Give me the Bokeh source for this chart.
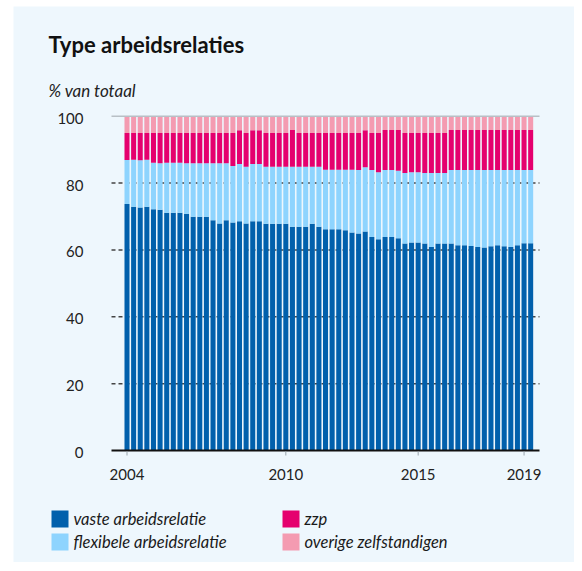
from bokeh.plotting import figure
from bokeh.models import ColumnDataSource, Spacer
from bokeh.core.properties import value
from bokeh.layouts import row, column
from bokeh.embed import file_html
from bokeh.resources import INLINE

# Quarters 2004 K1 .. 2019 K2
kwartalen = [f"{j}-K{k}" for j in range(2004, 2020) for k in range(1, 5)][:62]

vaste = [73.7, 72.9, 72.7, 72.9, 72.2, 72.0, 71.1, 71.1, 71.1, 70.8,
         69.9, 69.9, 69.9, 68.9, 67.9, 68.9, 68.2, 68.6, 67.9, 68.6,
         68.6, 67.8, 67.8, 67.8, 67.8, 66.9, 66.9, 66.9, 67.8, 66.9,
         66.2, 66.2, 66.2, 65.9, 65.2, 64.9, 65.5, 63.9, 63.2, 63.9,
         63.9, 63.5, 61.9, 62.2, 62.2, 61.9, 60.9, 61.9, 61.9, 61.9,
         61.4, 61.4, 61.2, 60.9, 60.7, 61.1, 61.4, 61.1, 60.9, 61.4,
         62.0, 62.0]
flexibel = [13.2, 14.1, 14.1, 14.1, 13.9, 13.9, 15.0, 15.0, 15.0, 15.1,
            16.0, 16.0, 16.0, 17.0, 18.0, 17.0, 16.9, 17.1, 17.0, 17.1,
            17.1, 17.1, 17.1, 17.1, 17.1, 18.0, 18.0, 18.0, 17.1, 18.0,
            17.8, 17.8, 17.8, 18.1, 18.8, 19.0, 19.2, 20.0, 20.0, 20.0,
            20.0, 20.2, 21.1, 21.0, 21.0, 21.1, 22.1, 21.1, 21.1, 22.0,
            22.5, 22.5, 22.7, 23.0, 23.2, 22.8, 22.5, 22.8, 23.0, 22.5,
            21.9, 21.9]
zzp = [8.1, 8.0, 8.2, 8.0, 8.9, 9.1, 8.9, 8.9, 8.9, 9.1,
       9.1, 9.1, 9.1, 9.1, 9.1, 9.1, 9.9, 10.1, 10.1, 10.1,
       10.1, 10.1, 10.1, 10.1, 10.1, 11.0, 10.1, 10.1, 10.1, 10.1,
       11.0, 11.0, 11.0, 11.0, 11.0, 11.1, 11.1, 11.1, 11.8, 12.0,
       12.0, 12.2, 12.0, 11.8, 11.8, 12.0, 12.0, 12.0, 12.0, 12.0,
       12.0, 12.0, 12.0, 12.0, 12.0, 12.0, 12.0, 12.0, 12.0, 12.0,
       12.0, 12.0]
overige = [5.0, 5.0, 5.0, 5.0, 5.0, 5.0, 5.0, 5.0, 5.0, 5.0,
           5.0, 5.0, 5.0, 5.0, 5.0, 5.0, 5.0, 4.2, 5.0, 4.2,
           4.2, 5.0, 5.0, 5.0, 5.0, 4.1, 5.0, 5.0, 5.0, 5.0,
           5.0, 5.0, 5.0, 5.0, 5.0, 5.0, 4.2, 5.0, 5.0, 4.1,
           4.1, 4.1, 5.0, 5.0, 5.0, 5.0, 5.0, 5.0, 5.0, 4.1,
           4.1, 4.1, 4.1, 4.1, 4.1, 4.1, 4.1, 4.1, 4.1, 4.1,
           4.1, 4.1]

series = ["vaste", "flexibel", "zzp", "overige"]
labels = ["vaste arbeidsrelatie", "flexibele arbeidsrelatie", "zzp",
          "overige zelfstandigen"]
colors = ["#0160AC", "#8ED4FE", "#E5006E", "#F49BB1"]
year_ticks = [2004, 2010, 2015, 2019]
y_ticks = [0, 20, 40, 60, 80, 100]
grid_ticks = [20, 40, 60, 80]
title = "Type arbeidsrelaties"
subtitle = "% van totaal"

BG = "#EEF7FD"
FONT = "Lato"

# layout helpers: pixel positions of the panel -> data coordinates
PX_PER_YEAR = 26.47
PX_PER_PCT = 3.343
X_AT_2004 = 127.5      # page x of 2004 tick
Y_AT_0 = 450.0         # page y of the 0 line


def xv(px):
    return 2004 + (px - X_AT_2004) / PX_PER_YEAR


def yv(py):
    return (Y_AT_0 - py) / PX_PER_PCT


xpos = [int(s[:4]) + (int(s[-1]) - 1) / 4 for s in kwartalen]
src = ColumnDataSource(dict(x=xpos, vaste=vaste, flexibel=flexibel,
                            zzp=zzp, overige=overige))

p = figure(width=561, height=556, output_backend="svg", toolbar_location=None,
           x_range=(xv(14), xv(575)), y_range=(yv(562), yv(6)),
           x_axis_type=None, y_axis_type=None, min_border=0)
p.background_fill_color = BG
p.border_fill_color = BG
p.outline_line_color = None

xl, xr = xv(112), xv(540)

# dashed gridlines (under the bars)
p.segment(x0=[xl] * len(grid_ticks), x1=[xr] * len(grid_ticks),
          y0=grid_ticks, y1=grid_ticks, line_color="#444444",
          line_width=1.5, line_dash="4 3")

# stacked bars
p.vbar_stack(series, x="x", width=0.19, fill_color=colors,
             line_color=None, source=src)

# top line (100) and baseline (0)
p.segment(x0=[xl], x1=[xr], y0=[100], y1=[100], line_color="#b8c0c6",
          line_width=1.5)
p.segment(x0=[xl], x1=[xr], y0=[0], y1=[0], line_color="#111111",
          line_width=2)

# x ticks and labels
p.segment(x0=year_ticks, x1=year_ticks, y0=[yv(451)] * 4, y1=[yv(455)] * 4,
          line_color="#9aa5ad", line_width=1)
p.text(x=year_ticks, y=[yv(474)] * 4, text=[str(t) for t in year_ticks],
       text_font=value(FONT), text_font_size="15px", text_color="#222222",
       text_align="center", text_baseline="middle")

# y labels
p.text(x=[xv(84)] * len(y_ticks), y=[t - 2 / PX_PER_PCT for t in y_ticks],
       text=[str(t) for t in y_ticks], text_font=value(FONT),
       text_font_size="15px", text_color="#222222", text_align="right",
       text_baseline="middle")

# title and unit
p.text(x=[xv(49)], y=[yv(44.3)], text=[title], text_font=value(FONT),
       text_font_size="22px", text_font_style="bold", text_color="#111111",
       text_baseline="alphabetic")
p.text(x=[xv(49)], y=[yv(90)], text=[subtitle], text_font=value(FONT),
       text_font_size="17px", text_font_style="italic", text_color="#222222",
       text_baseline="alphabetic")

# legend 2 x 2
sq_px = [60.5, 60.5, 291.5, 291.5]
sq_py = [518.5, 541.5, 518.5, 541.5]
p.rect(x=[xv(v) for v in sq_px], y=[yv(v) for v in sq_py], width=17,
       height=17, width_units="screen", height_units="screen",
       fill_color=colors, line_color=None)
p.text(x=[xv(v + 13.5) for v in sq_px], y=[yv(v) for v in sq_py],
       text=labels, text_font=value(FONT), text_font_size="16.5px",
       text_font_style="italic", text_color="#1a1a1a",
       text_baseline="middle")

layout = column(Spacer(height=6), row(Spacer(width=13), p))
open("out.html", "w").write(file_html(layout, INLINE))
